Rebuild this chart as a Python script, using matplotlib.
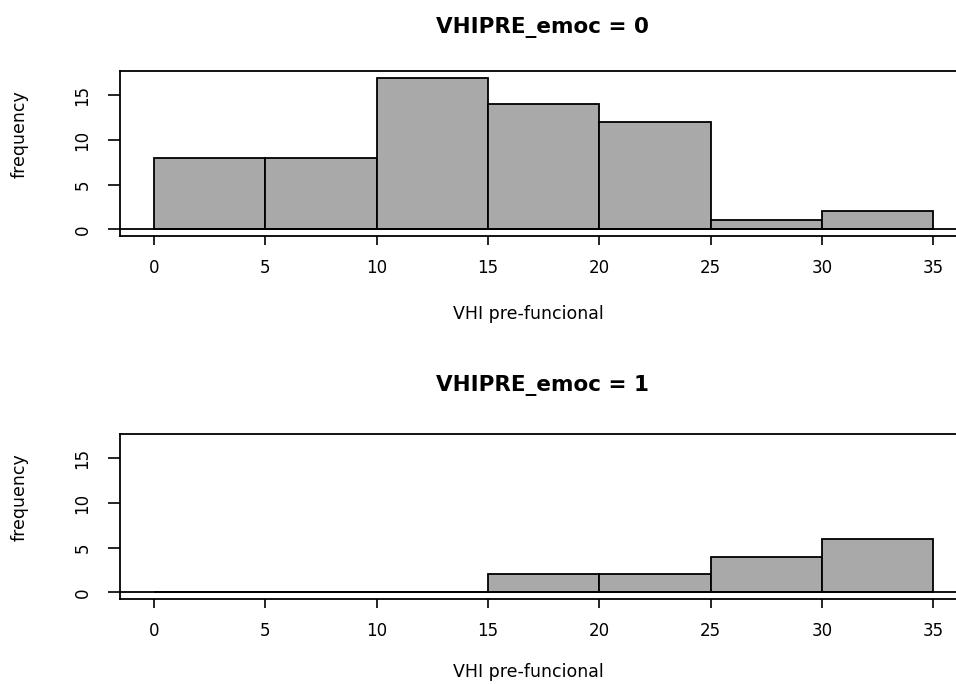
import matplotlib
matplotlib.use("Agg")
import matplotlib.pyplot as plt
import numpy as np

# ---- data ----
bin_edges = [0, 5, 10, 15, 20, 25, 30, 35]
counts_emoc0 = [8, 8, 17, 14, 12, 1, 2]
counts_emoc1 = [0, 0, 0, 2, 2, 4, 6]
titles = ["VHIPRE_emoc = 0", "VHIPRE_emoc = 1"]
xlabel = "VHI pre-funcional"
ylabel = "frequency"
xticks = [0, 5, 10, 15, 20, 25, 30, 35]
yticks = [0, 5, 10, 15]

W, H = 956, 684
fig = plt.figure(figsize=(W / 100, H / 100), dpi=100)
plt.rcParams['font.family'] = ['DejaVu Sans']

fill = "#a9a9a9"

def px(x, y):
    return x / W, 1 - y / H

panels = [
    dict(counts=counts_emoc0, title=titles[0], top=71, bottom=236, title_y=27, xl_y=314),
    dict(counts=counts_emoc1, title=titles[1], top=434, bottom=599, title_y=385, xl_y=672),
]

left_px, right_px = 120, 971
for p in panels:
    ax = fig.add_axes([left_px / W, 1 - p["bottom"] / H,
                       (right_px - left_px) / W, (p["bottom"] - p["top"]) / H])
    lefts = bin_edges[:-1]
    widths = np.diff(bin_edges)
    ax.bar(lefts, p["counts"], width=widths, align="edge", color=fill,
           edgecolor="black", linewidth=1.3, zorder=2)
    ax.axhline(0, color="black", linewidth=1.3, zorder=3)
    ax.set_xlim(-1.53, 36.7)
    ax.set_ylim(-0.75, 17.74)
    ax.set_xticks(xticks)
    ax.set_yticks(yticks)
    ax.tick_params(axis="x", direction="out", length=6.5, width=1.2,
                   pad=10, labelsize=12)
    ax.tick_params(axis="y", direction="out", length=8.6, width=1.2,
                   pad=12, labelsize=12)
    for lab in ax.get_yticklabels():
        lab.set_rotation(90)
        lab.set_va("center")
    for s in ax.spines.values():
        s.set_linewidth(1.3)
        s.set_color("black")
    x, y = px(542, p["title_y"])
    fig.text(x, y, p["title"], ha="center", va="center",
             fontsize=15.5, fontweight="bold")
    x, y = px(528, p["xl_y"])
    fig.text(x, y, xlabel, ha="center", va="center", fontsize=12.5)
    x, y = px(20, p["top"] + 63)
    fig.text(x, y, ylabel, ha="center", va="center", rotation=90, fontsize=12.5)

fig.savefig("out.png", dpi=100)
